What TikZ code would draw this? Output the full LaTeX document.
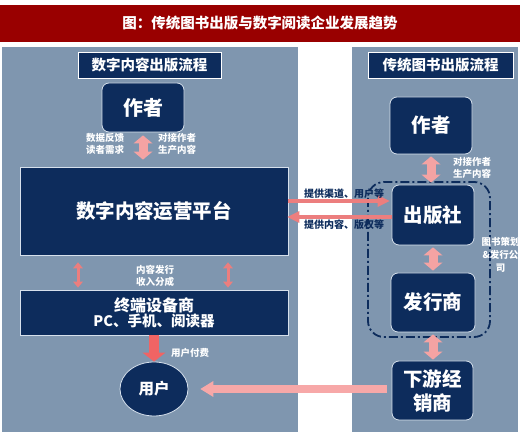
\documentclass[tikz,border=0pt]{standalone}
\usepackage{fontspec}
\setmainfont{Noto Sans CJK SC}
\usetikzlibrary{arrows.meta,shapes.geometric}
\definecolor{navy}{HTML}{0D2C5C}
\definecolor{panel}{HTML}{7F96AF}
\definecolor{titlered}{HTML}{990000}
\definecolor{pinkA}{HTML}{F4A3A3}
\definecolor{salmon}{HTML}{EC7E7E}
\definecolor{redarr}{HTML}{F06464}
\definecolor{rose}{HTML}{F7A8A8}
\definecolor{edge}{HTML}{D6E0EC}
\newcommand{\fsz}[2]{\fontsize{#1}{#2}\selectfont}
\begin{document}
\begin{tikzpicture}[x=1pt,y=-1pt,
  box/.style={fill=navy,draw=edge,line width=0.8pt,text=white,font=\bfseries\fsz{19.5}{24},align=center,inner sep=0pt},
  rbox/.style={box,rounded corners=7pt},
  hdr/.style={fill=navy,draw=white,line width=0.8pt,text=white,font=\bfseries\fsz{14.5}{16},minimum height=26pt,inner sep=0pt},
  lbl/.style={text=white,font=\bfseries\fsz{9.5}{12.5},align=center,inner sep=0pt},
  dlbl/.style={text=navy,font=\bfseries\fsz{10}{12},inner sep=0pt},
  fatdbl/.style={draw=pinkA,line width=9pt,{Triangle[width=19pt,length=8pt,line width=0pt]}-{Triangle[width=19pt,length=8pt,line width=0pt]}},
  thindbl/.style={draw=salmon,line width=3pt,{Triangle[width=10pt,length=6pt,line width=0pt]}-{Triangle[width=10pt,length=6pt,line width=0pt]}},
  harr/.style={draw=salmon,line width=3.5pt,-{Triangle[width=12pt,length=12pt,line width=0pt]}},
  downarr/.style={draw=redarr,line width=10pt,-{Triangle[width=23pt,length=9pt,line width=0pt]}},
  backarr/.style={draw=rose,line width=8pt,-{Triangle[width=16pt,length=13pt,line width=0pt]}}
]
\useasboundingbox (0,0) rectangle (520,435);
\fill[white] (0,0) rectangle (520,435);
\fill[titlered] (0,5) rectangle (520,42);
\node[text=white,font=\bfseries\fsz{14.5}{16}] (title) at (260,23.5) {图：传统图书出版与数字阅读企业发展趋势};
\fill[panel] (2,47) rectangle (298,432);
\fill[panel] (352,47) rectangle (518,432);

% headers
\node[hdr,minimum width=143pt] (hdrL) at (149.5,65) {数字内容出版流程};
\node[hdr,minimum width=145pt] (hdrR) at (440.5,65) {传统图书出版流程};

% left column
\node[rbox,minimum width=82pt,minimum height=49pt,font=\bfseries\fsz{20}{24}] (authL) at (143,107.5) {作者};
\node[box,minimum width=268pt,minimum height=88pt] (plat) at (154,211) {数字内容运营平台};
\node[box,minimum width=268pt,minimum height=45pt,font=\bfseries\fsz{16}{15}] (term) at (154,312.5) {终端设备商\\{\fsz{14.5}{15}PC、手机、阅读器}};
\node[ellipse,fill=navy,draw=edge,line width=0.8pt,text=white,font=\bfseries\fsz{15.5}{18},minimum width=68pt,minimum height=54pt,inner sep=0pt] (user) at (154,389) {用户};

% right column
\node[rbox,minimum width=82pt,minimum height=57pt] (authR) at (431,125.5) {作者};
\node[rbox,minimum width=82pt,minimum height=60pt] (pub) at (433,215) {出版社};
\node[rbox,minimum width=84pt,minimum height=59pt] (dist) at (433,302.5) {发行商};
\node[rbox,minimum width=81pt,minimum height=59pt] (down) at (432.5,390.5) {下游经\\销商};

% dash-dot group
\draw[navy,line width=1.8pt,dash pattern=on 9pt off 3pt on 2pt off 3pt,rounded corners=16pt] (368,182) rectangle (490,337);

% arrows left
\draw[fatdbl,shorten <=3pt,shorten >=7pt] (authL.south) -- (authL.south |- plat.north);
\draw[thindbl,shorten <=7pt,shorten >=2pt] (78,0 |- plat.south) -- (78,0 |- term.north);
\draw[thindbl,shorten <=7pt,shorten >=2pt] (228,0 |- plat.south) -- (228,0 |- term.north);
\draw[downarr] (term.south) -- (user.north);

% arrows right
\draw[fatdbl,shorten <=2pt,shorten >=2pt] (authR.south) -- (authR.south |- pub.north);
\draw[fatdbl,shorten <=2pt,shorten >=2pt] (pub.south) -- (pub.south |- dist.north);
\draw[fatdbl,shorten <=2pt,shorten >=1pt] (dist.south) -- (dist.south |- down.north);

% cross arrows
\draw[harr,shorten >=2pt] (plat.east |- 0,201) -- (pub.west |- 0,201);
\draw[harr,shorten >=-1pt] (pub.west |- 0,217) -- (plat.east |- 0,217);
\draw[backarr,shorten <=5pt,shorten >=12pt] (down.west |- user.east) -- (user.east);

% labels
\node[lbl] (l1) at (105,144) {数据反馈\\读者需求};
\node[lbl] (l2) at (177,144) {对接作者\\生产内容};
\node[lbl] (l3) at (155,276) {内容发行\\收入分成};
\node[lbl] (l4) at (190,353) {用户付费};
\node[lbl] (l5) at (472,168) {对接作者\\生产内容};
\node[lbl,font=\bfseries\fsz{9.5}{13}] (l6) at (500.5,255) {图书策划\\\&发行公\\司};
\node[dlbl] (l7) at (344,194) {提供渠道、用户等};
\node[dlbl] (l8) at (344,225) {提供内容、版权等};
\end{tikzpicture}
\end{document}
